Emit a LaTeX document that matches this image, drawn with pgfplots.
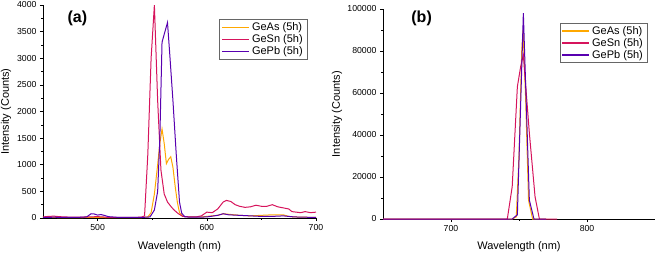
\documentclass[border=0pt]{standalone}
\usepackage{pgfplots}
\pgfplotsset{compat=1.18}
\usepackage{fontspec}
\setmainfont{Liberation Sans}
\definecolor{cAs}{RGB}{255,168,0}
\definecolor{cSn}{RGB}{214,20,92}
\definecolor{cPb}{RGB}{88,0,176}
\pgfplotsset{
  myaxis/.style={
    scale only axis,
    axis x line=bottom, axis y line=left,
    axis line style={-, black, line width=0.6pt},
    tick align=outside,
    tick style={black, line width=0.6pt},
    major tick length=3pt, minor tick length=1.8pt,
    minor tick num=1,
    ticklabel style={font=\fontsize{8.7}{10}\selectfont},
    scaled y ticks=false,
    label style={font=\fontsize{11}{13}\selectfont},
    legend style={draw=gray!80!black, font=\fontsize{11}{13}\selectfont,
      inner xsep=2pt, inner ysep=1pt, row sep=-1.5pt},
    legend cell align=left,
    legend image code/.code={\draw[#1] (0cm,0cm) -- (0.95cm,0cm);},
    every axis plot/.append style={line width=1pt, no markers},
    clip=true,
  }
}
\begin{document}
\begin{tikzpicture}
\begin{axis}[myaxis,
  width=273pt, height=213pt,
  xmin=450, xmax=700, ymin=0, ymax=4000,
  xtick={500,600,700}, xticklabels={500,600,700},
  ytick={0,500,1000,1500,2000,2500,3000,3500,4000},
  yticklabels={0,500,1000,1500,2000,2500,3000,3500,4000},
  xlabel={Wavelength (nm)}, ylabel={Intensity (Counts)},
  xlabel style={at={(axis description cs:0.5,-0.136)}, anchor=center},
  ylabel style={at={(axis description cs:-0.135,0.5)}, anchor=center},
  legend style={at={(0.967,0.932)}, anchor=north east},
]
\addlegendimage{color=cAs, line width=1.4pt}
\addlegendimage{color=cSn, line width=1.4pt}
\addlegendimage{color=cPb, line width=1.4pt}
\addplot[color=cAs, forget plot] coordinates {
(450,10)(460,10)(470,8)(480,8)(490,10)(500,12)(510,8)(520,5)(530,5)(540,8)(546,20)(549,100)(552,450)(555,1000)(557,1400)(559,1670)(561,1400)(563,1020)(565,1100)(567,1150)(569,950)(571,600)(573,300)(575,100)(578,30)(585,20)(595,20)(600,30)(610,50)(615,80)(620,70)(630,50)(640,40)(650,50)(660,60)(670,60)(675,30)(680,20)(690,15)(700,10)};
\addplot[color=cSn, forget plot] coordinates {
(450,20)(455,30)(460,35)(465,25)(470,20)(480,15)(490,20)(500,25)(505,20)(510,10)(520,10)(530,12)(540,15)(543,40)(546,1200)(549,3000)(552,4000)(555,2200)(558,900)(561,450)(564,300)(567,220)(570,150)(574,80)(578,30)(585,20)(590,20)(595,40)(600,110)(605,100)(610,170)(615,300)(618,330)(622,310)(626,250)(630,220)(635,200)(640,210)(645,240)(650,220)(655,220)(660,250)(665,210)(670,190)(675,170)(678,120)(682,110)(686,100)(690,120)(695,100)(700,110)};
\addplot[color=cPb, forget plot] coordinates {
(450,10)(460,15)(470,10)(480,10)(490,20)(494,80)(497,75)(500,55)(503,65)(506,50)(510,25)(520,10)(540,10)(548,20)(552,150)(555,500)(557,1500)(559,3300)(561,3450)(564,3670)(566,3100)(569,2200)(572,1200)(575,300)(577,90)(580,20)(590,15)(600,20)(610,50)(615,80)(620,60)(630,50)(640,40)(650,30)(660,30)(670,40)(680,20)(690,15)(700,10)};
\legend{GeAs (5h),GeSn (5h),GePb (5h)}
\node[font=\fontsize{16}{18}\selectfont\bfseries] at (rel axis cs:0.126,0.939) {(a)};
\end{axis}
\begin{axis}[myaxis,
  at={(340pt,-1pt)},
  width=272pt, height=210pt,
  xmin=650, xmax=850, ymin=0, ymax=100000,
  xtick={700,800}, xticklabels={700,800},
  ytick={0,20000,40000,60000,80000,100000},
  yticklabels={0,20000,40000,60000,80000,100000},
  xlabel={Wavelength (nm)}, ylabel={Intensity (Counts)},
  xlabel style={at={(axis description cs:0.5,-0.133)}, anchor=center},
  ylabel style={at={(axis description cs:-0.169,0.5)}, anchor=center},
  legend style={at={(0.971,0.933)}, anchor=north east},
]
\addlegendimage{color=cAs, line width=1.4pt}
\addlegendimage{color=cSn, line width=1.4pt}
\addlegendimage{color=cPb, line width=1.4pt}
\addplot[color=cAs, forget plot] coordinates {
(650,0)(700,0)(745,0)(748,1000)(750,30000)(752,80000)(753,90000)(755,55000)(757,9000)(760,0)(770,0)};
\addplot[color=cSn, forget plot] coordinates {
(650,0)(700,0)(741.4,0)(745,15400)(748.8,63000)(751.2,72500)(753.2,78000)(757.6,41000)(761.8,10600)(765,0)(778,0)};
\addplot[color=cPb, forget plot] coordinates {
(650,0)(700,0)(745,0)(748.8,2000)(753.2,98000)(757.6,9000)(761,0)(770,0)};
\legend{GeAs (5h),GeSn (5h),GePb (5h)}
\node[font=\fontsize{16}{18}\selectfont\bfseries] at (rel axis cs:0.142,0.957) {(b)};
\end{axis}
\pgfresetboundingbox
\path[use as bounding box] (-43pt,-36pt) rectangle (617pt,218pt);
\end{tikzpicture}
\end{document}
